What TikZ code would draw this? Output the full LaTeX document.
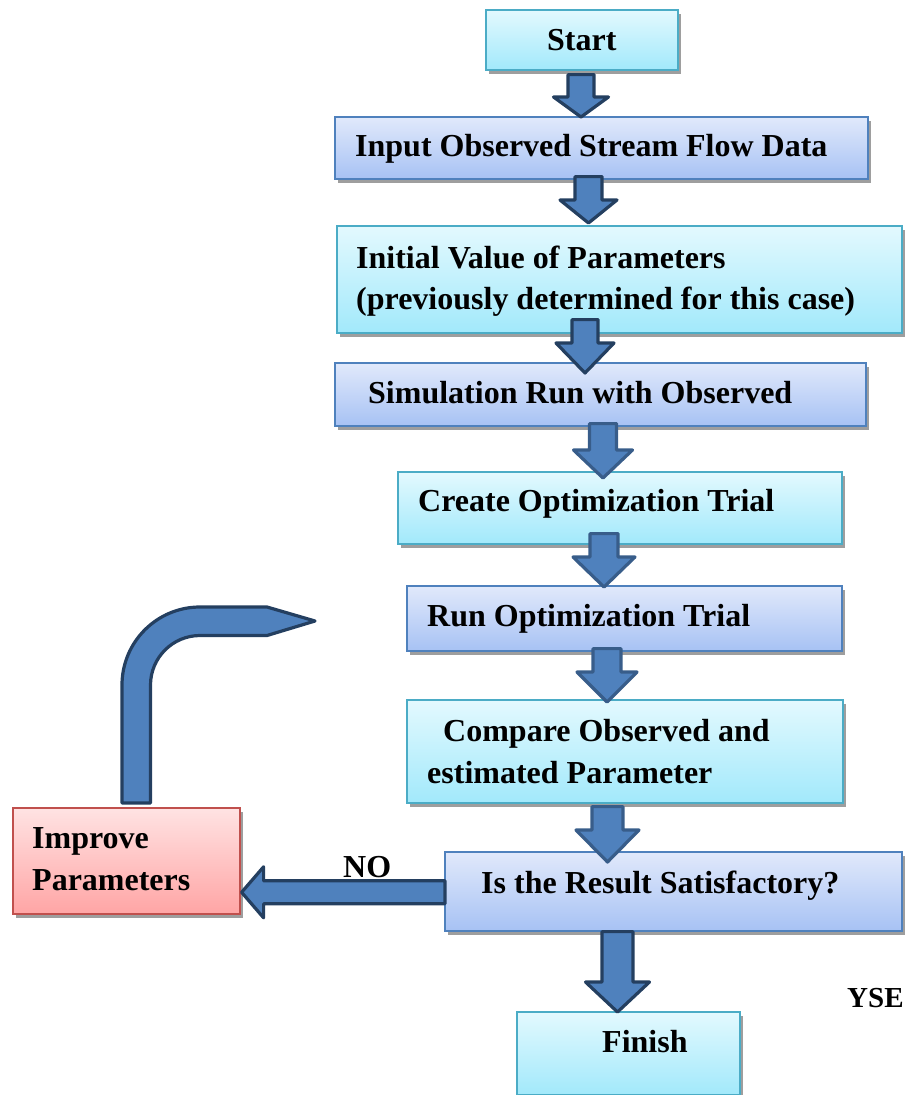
\documentclass[tikz,border=0pt]{standalone}
\usepackage{fontspec}
\setmainfont{Liberation Serif}
\usetikzlibrary{calc,shadows}

\definecolor{cyantop}{HTML}{E3F9FE}
\definecolor{cyanbot}{HTML}{A2E9FB}
\definecolor{cyanline}{HTML}{4BACC6}
\definecolor{bluetop}{HTML}{E1E9FB}
\definecolor{bluebot}{HTML}{A7C2F4}
\definecolor{blueline}{HTML}{4F81BD}
\definecolor{redtop}{HTML}{FFE3E3}
\definecolor{redbot}{HTML}{FFA5A5}
\definecolor{redline}{HTML}{C0504D}
\definecolor{arrowfill}{HTML}{4F81BD}
\definecolor{arrowdark}{HTML}{243F60}
\definecolor{arrowmid}{HTML}{385D8A}
\definecolor{shadowgray}{HTML}{9E9E9E}

\tikzset{
  box/.style={rectangle, anchor=north west, inner sep=0pt, line width=1.6pt,
    general shadow={fill=shadowgray, shadow xshift=3pt, shadow yshift=-4pt}},
  cyanbox/.style={box, draw=cyanline, top color=cyantop, bottom color=cyanbot},
  bluebox/.style={box, draw=blueline, top color=bluetop, bottom color=bluebot},
  redbox/.style={box, draw=redline, top color=redtop, bottom color=redbot},
  txt/.style={anchor=base west, inner sep=0pt, font=\bfseries\fontsize{32}{41}\selectfont},
  blockarrow/.style={fill=arrowfill, line width=3.2pt, line join=round},
}

% downward block arrow between two boxes:
% #1 upper box, #2 lower box, #3 x of the axis, #4 top offset, #5 tip offset,
% #6 shaft half width, #7 head half width, #8 head length, #9 outline colour
\newcommand\vlink[9]{%
  \coordinate (#1-#2-top) at ($(#1.south -| #3,0)+(0,#4)$);
  \coordinate (#1-#2-tip) at ($(#2.north -| #3,0)+(0,#5)$);
  \draw[blockarrow, draw=#9]
    ($(#1-#2-top)+(-#6,0)$) -- ($(#1-#2-top)+(#6,0)$)
    -- ($(#1-#2-tip)+(#6,-#8)$) -- ($(#1-#2-tip)+(#7,-#8)$)
    -- (#1-#2-tip)
    -- ($(#1-#2-tip)+(-#7,-#8)$) -- ($(#1-#2-tip)+(-#6,-#8)$) -- cycle;}

\begin{document}
\begin{tikzpicture}[x=1pt, y=-1pt]
\useasboundingbox (0,0) rectangle (909,1095);

% boxes
\node[cyanbox, minimum width=192pt, minimum height=60pt]  (start)    at (485,9)    {};
\node[bluebox, minimum width=533pt, minimum height=62pt]  (input)    at (334,116)  {};
\node[cyanbox, minimum width=565pt, minimum height=107pt] (initial)  at (336,225)  {};
\node[bluebox, minimum width=531pt, minimum height=63pt]  (sim)      at (334,362)  {};
\node[cyanbox, minimum width=444pt, minimum height=72pt]  (create)   at (397,471)  {};
\node[bluebox, minimum width=435pt, minimum height=65pt]  (run)      at (406,585)  {};
\node[cyanbox, minimum width=436pt, minimum height=103pt] (compare)  at (406,699)  {};
\node[bluebox, minimum width=457pt, minimum height=79pt]  (is)       at (444,851)  {};
\node[cyanbox, minimum width=223pt, minimum height=83pt]  (finish)   at (516,1011) {};
\node[redbox,  minimum width=227pt, minimum height=106pt] (improve)  at (12,807)   {};

% box texts
\node[txt] (t-start)    at (547,50)   {Start};
\node[txt] (t-input)    at (355,156)  {Input Observed Stream Flow Data};
\node[txt] (t-initial1) at (356,268)  {Initial Value of Parameters};
\node[txt] (t-initial2) at (356,309)  {(previously determined for this case)};
\node[txt] (t-sim)      at (368,403)  {Simulation Run with Observed};
\node[txt] (t-create)   at (418,511)  {Create Optimization Trial};
\node[txt] (t-run)      at (427,626)  {Run Optimization Trial};
\node[txt] (t-compare1) at (443,741)  {Compare Observed and};
\node[txt] (t-compare2) at (427,783)  {estimated Parameter};
\node[txt] (t-is)       at (481,893)  {Is the Result Satisfactory?};
\node[txt] (t-finish)   at (602,1052) {Finish};
\node[txt] (t-improve1) at (32,848)   {Improve};
\node[txt] (t-improve2) at (32,890)   {Parameters};
\node[txt] (t-no)       at (343,877)  {NO};
\node[txt, font=\bfseries\fontsize{29}{35}\selectfont] (t-yes) at (847,1007) {YSE};

% main chain of block arrows
\vlink{start}{input}{581}{4}{1}{13}{27.5}{20}{arrowdark}
\vlink{input}{initial}{588.5}{-3}{-2}{13.5}{28.5}{23}{arrowdark}
\vlink{initial}{sim}{585}{-14}{11}{13}{29}{30}{arrowdark}
\vlink{sim}{create}{603}{-3}{7}{13.5}{29.5}{28}{arrowmid}
\vlink{create}{run}{604}{-11}{2}{14}{31}{30}{arrowmid}
\vlink{run}{compare}{607}{-3}{3}{14}{30}{30}{arrowmid}
\vlink{compare}{is}{607.5}{3}{11}{15.5}{31.5}{32}{arrowmid}
\vlink{is}{finish}{617.5}{0}{1}{15.5}{32}{30}{arrowdark}

% NO branch to the left
\coordinate (nofrom) at ($(is.west)+(1,1)$);
\coordinate (noto) at ($(improve.east |- nofrom)+(1,0)$);
\draw[blockarrow, draw=arrowdark]
  ($(nofrom)+(0,-11.5)$) -- ($(noto)+(22,-11.5)$) -- ($(noto)+(22,-25.5)$)
  -- (noto) -- ($(noto)+(22,25.5)$) -- ($(noto)+(22,11.5)$)
  -- ($(nofrom)+(0,11.5)$) -- cycle;

% bent return arrow rising from the improve box
\coordinate (loopend) at (315,621);
\draw[blockarrow, draw=arrowdark]
  (122,803) -- (122,685)
  .. controls (122,641.9) and (156.9,607) .. (200,607)
  -- (267,607) -- (loopend) -- (267,635.5) -- (200,635.5)
  .. controls (172.7,635.5) and (150.5,657.7) .. (150.5,685)
  -- (150.5,803) -- cycle;
\end{tikzpicture}
\end{document}
